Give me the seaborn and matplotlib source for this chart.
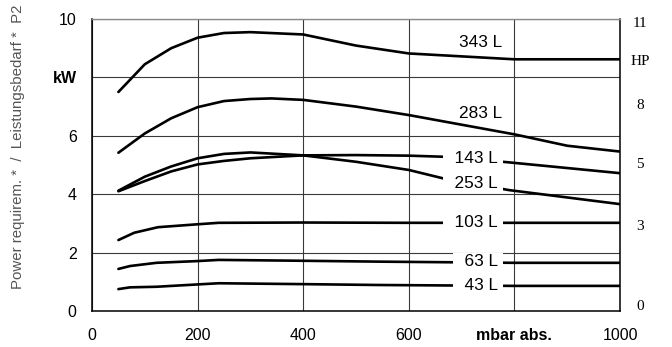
import matplotlib
matplotlib.use("Agg")
import matplotlib.pyplot as plt
import matplotlib.transforms as mtransforms
import seaborn as sns
import pandas as pd
import numpy as np

# ---- data ----
x_343 = [50, 100, 150, 200, 250, 300, 400, 500, 600, 800, 1000]
y_343 = [7.50, 8.45, 9.00, 9.36, 9.52, 9.55, 9.47, 9.09, 8.82, 8.62, 8.62]

x_283 = [50, 100, 150, 200, 250, 300, 340, 400, 500, 600, 800, 900, 1000]
y_283 = [5.42, 6.08, 6.60, 6.98, 7.19, 7.26, 7.28, 7.23, 7.00, 6.71, 6.05, 5.66, 5.46]

x_253 = [50, 100, 150, 200, 250, 300, 400, 500, 600, 670, 790, 1000]
y_253 = [4.12, 4.60, 4.95, 5.23, 5.38, 5.43, 5.33, 5.11, 4.83, 4.52, 4.14, 3.66]

x_143 = [50, 100, 150, 200, 250, 300, 400, 500, 600, 670, 790, 1000]
y_143 = [4.10, 4.45, 4.78, 5.02, 5.14, 5.23, 5.33, 5.34, 5.32, 5.28, 5.09, 4.72]

x_103 = [50, 80, 125, 200, 240, 400, 600, 800, 1000]
y_103 = [2.43, 2.68, 2.87, 2.97, 3.02, 3.03, 3.02, 3.02, 3.02]

x_63 = [50, 72, 122, 200, 240, 400, 545, 800, 1000]
y_63 = [1.44, 1.54, 1.65, 1.71, 1.75, 1.72, 1.69, 1.65, 1.65]

x_43 = [50, 72, 122, 200, 240, 400, 545, 800, 1000]
y_43 = [0.75, 0.81, 0.83, 0.91, 0.95, 0.92, 0.89, 0.86, 0.86]

series_names = ["343 L", "283 L", "253 L", "143 L", "103 L", "63 L", "43 L"]
label_x = [776, 776, 776, 776, 776, 776, 776]
label_y = [9.18, 6.77, 4.36, 5.23, 3.02, 1.68, 0.86]
label_gap = [False, False, True, True, True, True, True]

x_ticks = [0, 200, 400, 600, 800, 1000]
x_ticklabels = ["0", "200", "400", "600", "mbar abs.", "1000"]
y_ticks = [0, 2, 4, 6, 8, 10]
y_ticklabels = ["0", "2", "4", "6", "kW", "10"]
hp_labels = ["11", "HP", "8", "5", "3", "0"]
hp_pos = [9.86, 8.54, 7.05, 5.0, 2.89, 0.15]

# ---- build long table ----
xs = [x_343, x_283, x_253, x_143, x_103, x_63, x_43]
ys = [y_343, y_283, y_253, y_143, y_103, y_63, y_43]
frames = []
for name, xv, yv in zip(series_names, xs, ys):
    frames.append(pd.DataFrame({"mbar": xv, "kW": yv, "pump": name}))
df = pd.concat(frames, ignore_index=True)

sns.set_style("white")
plt.rcParams["font.family"] = ["Liberation Sans", "DejaVu Sans"]

fig = plt.figure(figsize=(6.72, 3.47), dpi=100)
ax = fig.add_axes([92 / 672, 36 / 347, 528 / 672, 292 / 347])

sns.lineplot(data=df, x="mbar", y="kW", hue="pump", units="pump",
             estimator=None, sort=False,
             palette=["black"] * len(series_names), linewidth=1.9,
             legend=False, ax=ax, zorder=3)

ax.set_xlim(0, 1000)
ax.set_ylim(0, 10)
ax.set_xticks(x_ticks)
ax.set_xticklabels(x_ticklabels)
ax.set_yticks(y_ticks)
ax.set_yticklabels(y_ticklabels)
ax.set_xticks(np.arange(0, 1001, 100), minor=True)
ax.set_yticks(np.arange(0, 11, 1), minor=True)
for lab in ax.get_xticklabels():
    if lab.get_text() == "mbar abs.":
        lab.set_fontweight("bold")
for lab in ax.get_yticklabels():
    if lab.get_text() == "kW":
        lab.set_fontweight("bold")

ax.tick_params(axis="both", which="both", direction="out", length=4,
               width=0.9, color="black", labelsize=11.5, labelcolor="black")
ax.tick_params(axis="x", which="both", pad=8)
ax.tick_params(axis="y", which="both", pad=7)
ax.set_xlabel("")
ax.set_ylabel("")

ax.grid(True, which="major", color="#3a3a3a", linewidth=0.8)
ax.set_axisbelow(True)
for s in ["left", "bottom", "right"]:
    ax.spines[s].set_color("black")
    ax.spines[s].set_linewidth(1.1)
ax.spines["top"].set_color("#8a8a8a")
ax.spines["top"].set_linewidth(1.0)

# curve labels
for name, lx, ly, gap in zip(series_names, label_x, label_y, label_gap):
    txt = ("  " + name + " ") if gap else name
    ax.text(lx, ly, txt, ha="right", va="center", fontsize=12.4, color="black",
            zorder=5,
            bbox=dict(boxstyle="square,pad=0.1", fc="white", ec="none") if gap else None)

# right-hand HP labels
trans = mtransforms.blended_transform_factory(ax.transAxes, ax.transData)
for lab, pos in zip(hp_labels, hp_pos):
    ax.text(1.038, pos, lab, transform=trans, ha="center", va="center",
            fontsize=11, family=["Liberation Serif", "DejaVu Serif"], color="black")

fig.text(18 / 672, 1 - 147 / 347, "Power requirem. *  /  Leistungsbedarf *  P2",
         rotation=90, ha="center", va="center", fontsize=10.8, color="#555555")

fig.savefig("out.png", dpi=100)
